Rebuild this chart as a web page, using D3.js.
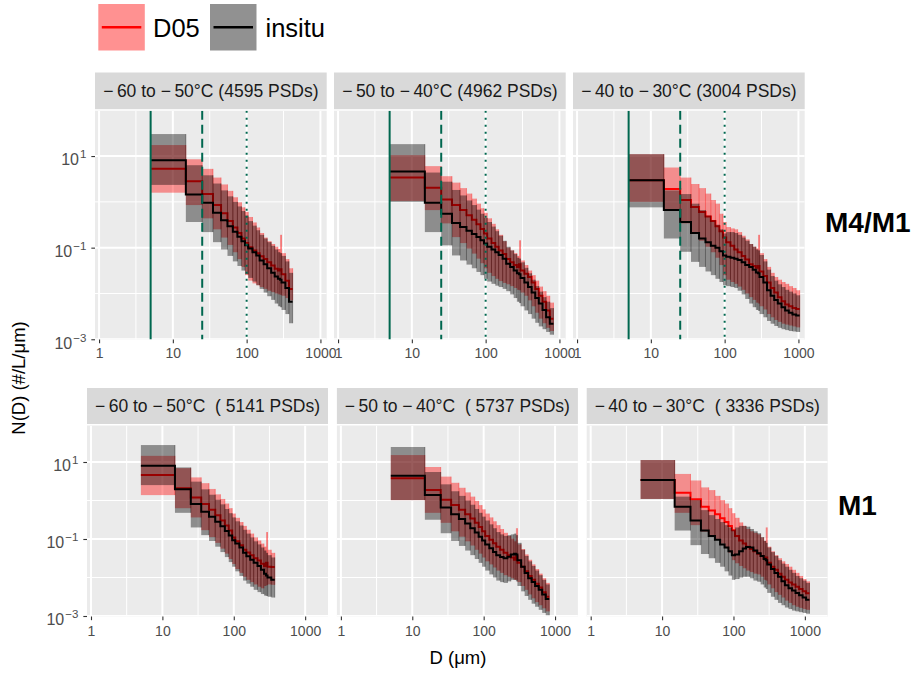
<!DOCTYPE html>
<html>
<head>
<meta charset="utf-8">
<script src="https://cdn.jsdelivr.net/npm/d3@7"></script>
<style>
  body { margin: 0; background: #fff; }
  text { font-family: "Liberation Sans", Arial, Helvetica, sans-serif; }
</style>
</head>
<body>
<svg id="chart" width="919" height="673"></svg>
<script>
// ---- data -----------------------------------------------------------------
// bin edges (µm) shared by all panels
const edges = [5, 15, 25, 35, 45, 55, 65, 75, 85, 95, 105, 120, 135, 150, 170, 190, 215, 240,
  265, 283, 297, 335, 375, 420, 470, 525, 590, 660, 740, 830, 930, 1040, 1160];

const seriesNames = ["D05", "insitu"];
const rowLabels = ["M4/M1", "M1"];
const topTitles = ["\u2212\u200960 to \u2212\u200950°C (4595 PSDs)", "\u2212\u200950 to \u2212\u200940°C (4962 PSDs)", "\u2212\u200940 to \u2212\u200930°C (3004 PSDs)"];
const bottomTitles = ["\u2212\u200960 to \u2212\u200950°C  ( 5141 PSDs)", "\u2212\u200950 to \u2212\u200940°C  ( 5737 PSDs)", "\u2212\u200940 to \u2212\u200930°C  ( 3336 PSDs)"];
const xTicks = [1, 10, 100, 1000];
const xMinor = [3.16, 31.6, 316];
const yTicks = [1e1, 1e-1, 1e-3];
const yMinor = [1e0, 1e-2];
const refLines = [5, 25, 100];

// values are log10 of N(D) (#/L/µm): median, lower and upper bound per bin
// M4/M1, -60 to -50
const t1_d05_med = [0.72, 0.45, 0.17, -0.07, -0.25, -0.42, -0.56, -0.68, -0.80, -0.90, -0.99, -1.06, -1.12, -1.19, -1.25, -1.32, -1.39, -1.46, -1.50, -1.47, -1.58, -1.72, -1.90];
const t1_d05_hi  = [1.24, 0.93, 0.72, 0.53, 0.38, 0.24, 0.10, -0.01, -0.12, -0.22, -0.33, -0.45, -0.56, -0.68, -0.78, -0.86, -0.92, -0.98, -1.03, -0.72, -1.12, -1.25, -1.45];
const t1_d05_lo  = [0.20, -0.07, -0.36, -0.60, -0.78, -0.94, -1.10, -1.25, -1.42, -1.60, -1.72, -1.78, -1.82, -1.86, -1.90, -1.94, -1.97, -2.00, -2.02, -2.03, -2.05, -2.10, -2.15];
const t1_ins_med = [0.91, 0.16, -0.02, -0.24, -0.40, -0.53, -0.65, -0.76, -0.86, -0.95, -1.02, -1.10, -1.17, -1.28, -1.36, -1.45, -1.55, -1.63, -1.68, -1.70, -1.76, -1.88, -2.18];
const t1_ins_hi  = [1.48, 0.80, 0.58, 0.40, 0.25, 0.12, 0.00, -0.10, -0.20, -0.30, -0.42, -0.52, -0.62, -0.72, -0.80, -0.88, -0.96, -1.04, -1.10, -1.12, -1.18, -1.30, -1.55];
const t1_ins_lo  = [0.37, -0.44, -0.66, -0.88, -1.04, -1.18, -1.30, -1.40, -1.50, -1.58, -1.66, -1.74, -1.82, -1.90, -1.98, -2.06, -2.14, -2.22, -2.28, -2.30, -2.36, -2.45, -2.65];
// M4/M1, -50 to -40
const t2_d05_med = [0.53, 0.31, 0.05, -0.07, -0.18, -0.29, -0.39, -0.49, -0.59, -0.69, -0.80, -0.90, -0.98, -1.06, -1.14, -1.25, -1.32, -1.38, -1.42, -1.36, -1.50, -1.57, -1.64, -1.76, -1.90, -2.05, -2.18, -2.37, -2.55];
const t2_d05_hi  = [1.02, 0.78, 0.56, 0.42, 0.30, 0.18, 0.07, -0.04, -0.14, -0.24, -0.36, -0.48, -0.60, -0.72, -0.86, -1.00, -1.06, -1.12, -1.18, -0.84, -1.28, -1.38, -1.50, -1.60, -1.72, -1.85, -1.95, -2.05, -2.20];
const t2_d05_lo  = [0.02, -0.18, -0.47, -0.77, -0.90, -1.02, -1.13, -1.24, -1.34, -1.45, -1.55, -1.62, -1.68, -1.73, -1.77, -1.80, -1.84, -1.88, -1.92, -1.93, -1.98, -2.05, -2.15, -2.28, -2.42, -2.55, -2.65, -2.75, -2.82];
const t2_ins_med = [0.66, -0.02, -0.26, -0.46, -0.55, -0.63, -0.70, -0.77, -0.84, -0.91, -0.98, -1.04, -1.10, -1.16, -1.24, -1.35, -1.42, -1.50, -1.56, -1.58, -1.66, -1.76, -1.86, -1.98, -2.10, -2.22, -2.36, -2.52, -2.66];
const t2_ins_hi  = [1.26, 0.64, 0.44, 0.26, 0.14, 0.03, -0.07, -0.17, -0.26, -0.35, -0.44, -0.54, -0.64, -0.74, -0.85, -0.98, -1.06, -1.14, -1.22, -1.24, -1.32, -1.44, -1.56, -1.70, -1.84, -1.96, -2.08, -2.18, -2.32];
const t2_ins_lo  = [0.00, -0.66, -0.95, -1.17, -1.28, -1.37, -1.45, -1.53, -1.60, -1.68, -1.74, -1.79, -1.83, -1.86, -1.90, -1.95, -2.02, -2.10, -2.18, -2.21, -2.28, -2.37, -2.45, -2.55, -2.64, -2.72, -2.78, -2.84, -2.90];
// M4/M1, -40 to -30
const t3_d05_med = [0.47, 0.28, 0.04, -0.11, -0.22, -0.32, -0.42, -0.53, -0.64, -0.78, -0.88, -0.96, -1.04, -1.10, -1.18, -1.26, -1.36, -1.40, -1.44, -1.40, -1.52, -1.62, -1.76, -1.88, -1.98, -2.08, -2.17, -2.24, -2.28, -2.32, -2.34];
const t3_d05_hi  = [1.04, 0.75, 0.53, 0.39, 0.30, 0.18, 0.04, -0.04, -0.26, -0.44, -0.55, -0.58, -0.60, -0.66, -0.74, -0.82, -0.92, -0.98, -1.02, -0.72, -1.12, -1.25, -1.42, -1.55, -1.64, -1.70, -1.75, -1.79, -1.84, -1.88, -1.93];
const t3_d05_lo  = [0.00, -0.18, -0.47, -0.69, -0.85, -0.98, -1.10, -1.22, -1.38, -1.60, -1.70, -1.75, -1.79, -1.85, -1.92, -2.00, -2.08, -2.14, -2.20, -2.22, -2.28, -2.35, -2.45, -2.52, -2.58, -2.62, -2.66, -2.68, -2.70, -2.72, -2.74];
const t3_ins_med = [0.47, -0.18, -0.44, -0.68, -0.80, -0.88, -0.96, -1.00, -1.08, -1.17, -1.20, -1.22, -1.24, -1.27, -1.32, -1.38, -1.42, -1.48, -1.54, -1.56, -1.64, -1.76, -1.93, -2.05, -2.14, -2.22, -2.30, -2.37, -2.42, -2.46, -2.48];
const t3_ins_hi  = [1.04, 0.25, 0.17, -0.04, -0.18, -0.30, -0.40, -0.50, -0.60, -0.69, -0.66, -0.66, -0.68, -0.72, -0.78, -0.85, -0.92, -0.98, -1.04, -1.06, -1.16, -1.30, -1.48, -1.62, -1.72, -1.80, -1.86, -1.92, -1.96, -2.00, -2.04];
const t3_ins_lo  = [-0.12, -0.80, -1.09, -1.31, -1.42, -1.52, -1.60, -1.68, -1.75, -1.82, -1.84, -1.86, -1.88, -1.94, -2.02, -2.12, -2.22, -2.30, -2.36, -2.38, -2.45, -2.52, -2.60, -2.66, -2.71, -2.75, -2.78, -2.80, -2.82, -2.83, -2.84];
// M1, -60 to -50
const b1_d05_med = [0.66, 0.32, 0.08, -0.09, -0.24, -0.38, -0.52, -0.65, -0.78, -0.96, -1.06, -1.16, -1.28, -1.35, -1.42, -1.50, -1.56, -1.64, -1.70, -1.62, -1.72, -1.73];
const b1_d05_hi  = [1.16, 0.84, 0.60, 0.45, 0.30, 0.16, 0.04, -0.08, -0.20, -0.34, -0.45, -0.56, -0.66, -0.76, -0.86, -0.96, -1.04, -1.12, -1.20, -0.82, -1.28, -1.36];
const b1_d05_lo  = [0.14, -0.20, -0.44, -0.77, -0.95, -1.10, -1.25, -1.38, -1.52, -1.65, -1.78, -1.88, -1.98, -2.06, -2.12, -2.18, -2.24, -2.28, -2.22, -2.20, -2.18, -2.19];
const b1_ins_med = [0.90, 0.29, -0.09, -0.29, -0.42, -0.55, -0.67, -0.79, -0.91, -1.03, -1.12, -1.22, -1.36, -1.45, -1.54, -1.62, -1.70, -1.80, -1.90, -1.95, -2.00, -2.06];
const b1_ins_hi  = [1.44, 0.86, 0.49, 0.29, 0.15, 0.02, -0.10, -0.22, -0.33, -0.44, -0.54, -0.65, -0.76, -0.86, -0.96, -1.06, -1.14, -1.22, -1.30, -1.36, -1.42, -1.48];
const b1_ins_lo  = [0.40, -0.32, -0.70, -0.90, -1.05, -1.20, -1.34, -1.47, -1.60, -1.72, -1.84, -1.96, -2.08, -2.16, -2.24, -2.32, -2.38, -2.43, -2.47, -2.48, -2.50, -2.52];
// M1, -50 to -40
const b2_d05_med = [0.58, 0.27, 0.02, -0.12, -0.24, -0.36, -0.47, -0.58, -0.69, -0.80, -0.92, -1.02, -1.11, -1.20, -1.28, -1.36, -1.42, -1.48, -1.54, -1.45, -1.62, -1.72, -1.84, -1.96, -2.06, -2.16, -2.26, -2.38, -2.50];
const b2_d05_hi  = [1.18, 0.87, 0.62, 0.46, 0.33, 0.21, 0.10, -0.01, -0.12, -0.23, -0.34, -0.44, -0.54, -0.64, -0.74, -0.84, -0.92, -0.99, -1.06, -0.72, -1.14, -1.26, -1.40, -1.54, -1.66, -1.78, -1.90, -2.02, -2.14];
const b2_d05_lo  = [0.01, -0.32, -0.58, -0.80, -0.94, -1.06, -1.17, -1.28, -1.38, -1.48, -1.58, -1.66, -1.74, -1.82, -1.88, -1.94, -1.98, -2.02, -2.06, -2.06, -2.12, -2.22, -2.32, -2.44, -2.54, -2.64, -2.72, -2.80, -2.88];
const b2_ins_med = [0.64, 0.14, -0.18, -0.36, -0.48, -0.60, -0.72, -0.83, -0.94, -1.04, -1.14, -1.24, -1.34, -1.42, -1.47, -1.50, -1.46, -1.40, -1.38, -1.40, -1.55, -1.72, -1.88, -2.02, -2.12, -2.22, -2.32, -2.44, -2.56];
const b2_ins_hi  = [1.39, 0.74, 0.42, 0.24, 0.12, 0.00, -0.11, -0.22, -0.32, -0.42, -0.52, -0.62, -0.72, -0.82, -0.88, -0.92, -0.90, -0.88, -0.86, -0.90, -1.10, -1.28, -1.44, -1.58, -1.70, -1.82, -1.94, -2.06, -2.18];
const b2_ins_lo  = [0.01, -0.50, -0.85, -1.05, -1.18, -1.30, -1.42, -1.52, -1.62, -1.72, -1.82, -1.92, -2.00, -2.08, -2.12, -2.14, -2.10, -2.06, -2.06, -2.10, -2.22, -2.36, -2.48, -2.58, -2.68, -2.76, -2.84, -2.92, -2.98];
// M1, -40 to -30
const b3_d05_med = [0.53, 0.20, 0.03, -0.16, -0.26, -0.36, -0.46, -0.56, -0.66, -0.77, -0.92, -1.04, -1.12, -1.20, -1.26, -1.32, -1.38, -1.44, -1.50, -1.48, -1.62, -1.72, -1.80, -1.90, -1.98, -2.06, -2.13, -2.18, -2.24, -2.30, -2.36, -2.41];
const b3_d05_hi  = [1.05, 0.69, 0.52, 0.34, 0.27, 0.12, 0.01, -0.08, -0.20, -0.33, -0.45, -0.57, -0.66, -0.74, -0.80, -0.84, -0.88, -0.96, -1.05, -0.70, -1.20, -1.32, -1.42, -1.50, -1.58, -1.65, -1.72, -1.80, -1.88, -1.96, -2.04, -2.10];
const b3_d05_lo  = [0.04, -0.32, -0.64, -0.81, -0.92, -1.02, -1.12, -1.24, -1.36, -1.55, -1.63, -1.70, -1.76, -1.82, -1.86, -1.90, -1.92, -1.98, -2.06, -2.08, -2.18, -2.28, -2.38, -2.45, -2.52, -2.60, -2.66, -2.72, -2.76, -2.79, -2.82, -2.84];
const b3_ins_med = [0.53, -0.16, -0.52, -0.78, -0.92, -1.02, -1.14, -1.22, -1.32, -1.42, -1.40, -1.32, -1.25, -1.21, -1.22, -1.30, -1.37, -1.44, -1.52, -1.55, -1.66, -1.78, -1.88, -1.98, -2.10, -2.20, -2.28, -2.34, -2.40, -2.46, -2.52, -2.58];
const b3_ins_hi  = [1.05, 0.10, 0.01, -0.25, -0.38, -0.48, -0.56, -0.64, -0.70, -0.77, -0.70, -0.66, -0.66, -0.68, -0.74, -0.80, -0.85, -0.95, -1.05, -1.10, -1.22, -1.34, -1.44, -1.55, -1.64, -1.72, -1.80, -1.88, -1.96, -2.02, -2.08, -2.14];
const b3_ins_lo  = [0.04, -0.78, -1.16, -1.39, -1.50, -1.62, -1.72, -1.84, -1.95, -2.06, -2.04, -2.00, -1.98, -1.98, -2.02, -2.08, -2.11, -2.18, -2.26, -2.30, -2.40, -2.50, -2.58, -2.66, -2.72, -2.78, -2.82, -2.86, -2.88, -2.90, -2.92, -2.94];

// ---- layout ---------------------------------------------------------------
const svg = d3.select("#chart");
const panelBg = "#EBEBEB", stripBg = "#D9D9D9", greenRef = "#00674F";
const textGrey = "#4D4D4D";

const rows = [
  { titles: topTitles, label: rowLabels[0], labelX: 825, labelY: 232,
    stripTop: 72.5, top: 110.7, bottom: 339.5, lefts: [95, 334, 573], width: 231.7,
    xDom: [Math.pow(10, -0.055), Math.pow(10, 3.085)], yDom: [Math.pow(10, -3.005), Math.pow(10, 1.99)],
    refs: true, xPad: 5,
    panels: [
      { d05: [t1_d05_med, t1_d05_lo, t1_d05_hi], ins: [t1_ins_med, t1_ins_lo, t1_ins_hi] },
      { d05: [t2_d05_med, t2_d05_lo, t2_d05_hi], ins: [t2_ins_med, t2_ins_lo, t2_ins_hi] },
      { d05: [t3_d05_med, t3_d05_lo, t3_d05_hi], ins: [t3_ins_med, t3_ins_lo, t3_ins_hi] }] },
  { titles: bottomTitles, label: rowLabels[1], labelX: 838, labelY: 515,
    stripTop: 388, top: 425.5, bottom: 616.5, lefts: [87, 336.9, 586.7], width: 241,
    xDom: [Math.pow(10, -0.056), Math.pow(10, 3.32)], yDom: [Math.pow(10, -3.013), Math.pow(10, 1.948)],
    refs: false, xPad: 6,
    panels: [
      { d05: [b1_d05_med, b1_d05_lo, b1_d05_hi], ins: [b1_ins_med, b1_ins_lo, b1_ins_hi] },
      { d05: [b2_d05_med, b2_d05_lo, b2_d05_hi], ins: [b2_ins_med, b2_ins_lo, b2_ins_hi] },
      { d05: [b3_d05_med, b3_d05_lo, b3_d05_hi], ins: [b3_ins_med, b3_ins_lo, b3_ins_hi] }] }
];

function toBins(s) {
  const [med, lo, hi] = s;
  return med.map((m, i) => ({ x0: edges[i], x1: edges[i + 1],
    med: Math.pow(10, m), lo: Math.pow(10, lo[i]), hi: Math.pow(10, hi[i]) }));
}

function drawSeries(g, bins, x, y, fill, edgeCol, lineCol) {
  g.append("g").selectAll("rect").data(bins).join("rect")
    .attr("x", d => x(d.x0))
    .attr("width", d => x(d.x1) - x(d.x0))
    .attr("y", d => y(d.hi))
    .attr("height", d => y(d.lo) - y(d.hi))
    .attr("fill", fill)
    .attr("fill-opacity", 0.4);
  g.append("g").selectAll("line").data(bins).join("line")
    .attr("x1", d => x(d.x1)).attr("x2", d => x(d.x1))
    .attr("y1", d => y(d.hi)).attr("y2", d => y(d.lo))
    .attr("stroke", edgeCol)
    .attr("stroke-opacity", 0.45)
    .attr("stroke-width", 0.8);
  const pts = bins.flatMap(d => [[d.x0, d.med], [d.x1, d.med]]);
  g.append("path")
    .attr("d", d3.line().x(p => x(p[0])).y(p => y(p[1]))(pts))
    .attr("fill", "none")
    .attr("stroke", lineCol)
    .attr("stroke-width", 2);
}

rows.forEach((row, r) => {
  row.panels.forEach((p, c) => {
    const left = row.lefts[c], right = left + row.width;
    const x = d3.scaleLog().domain(row.xDom).range([left, right]);
    const y = d3.scaleLog().domain(row.yDom).range([row.bottom, row.top]);
    const g = svg.append("g");

    // strip
    g.append("rect")
      .attr("x", left).attr("y", row.stripTop)
      .attr("width", row.width).attr("height", row.top - 1.5 - row.stripTop)
      .attr("fill", stripBg);
    g.append("text")
      .attr("x", (left + right) / 2).attr("y", row.stripTop + (row.top - 1.5 - row.stripTop) / 2 + 6.2)
      .attr("text-anchor", "middle")
      .attr("font-size", 17.5)
      .attr("fill", "#1A1A1A")
      .style("white-space", "pre")
      .text(row.titles[c]);

    // panel background and grid
    g.append("rect")
      .attr("x", left).attr("y", row.top)
      .attr("width", row.width).attr("height", row.bottom - row.top)
      .attr("fill", panelBg);
    const clipId = "clip" + r + c;
    g.append("clipPath").attr("id", clipId).append("rect")
      .attr("x", left).attr("y", row.top)
      .attr("width", row.width).attr("height", row.bottom - row.top);
    const inner = g.append("g").attr("clip-path", `url(#${clipId})`);

    inner.append("g").selectAll("line").data(xMinor).join("line")
      .attr("x1", d => x(d)).attr("x2", d => x(d))
      .attr("y1", row.top).attr("y2", row.bottom)
      .attr("stroke", "#fff").attr("stroke-width", 1);
    inner.append("g").selectAll("line").data(yMinor).join("line")
      .attr("y1", d => y(d)).attr("y2", d => y(d))
      .attr("x1", left).attr("x2", right)
      .attr("stroke", "#fff").attr("stroke-width", 1);
    inner.append("g").selectAll("line").data(xTicks).join("line")
      .attr("x1", d => x(d)).attr("x2", d => x(d))
      .attr("y1", row.top).attr("y2", row.bottom)
      .attr("stroke", "#fff").attr("stroke-width", 2);
    inner.append("g").selectAll("line").data(yTicks).join("line")
      .attr("y1", d => y(d)).attr("y2", d => y(d))
      .attr("x1", left).attr("x2", right)
      .attr("stroke", "#fff").attr("stroke-width", 2);

    // data: D05 first, in-situ on top
    drawSeries(inner, toBins(p.d05), x, y, "#FF0000", "#FF0000", "#FF0000");
    drawSeries(inner, toBins(p.ins), x, y, "#000000", "#000000", "#000000");

    // reference sizes (top row only)
    if (row.refs) {
      const dashes = [null, "9,5", "2,5"];
      inner.append("g").selectAll("line").data(refLines).join("line")
        .attr("x1", d => x(d)).attr("x2", d => x(d))
        .attr("y1", row.top).attr("y2", row.bottom)
        .attr("stroke", greenRef).attr("stroke-width", 2)
        .attr("stroke-dasharray", (d, i) => dashes[i]);
    }

    // x axis
    const xa = g.append("g")
      .attr("transform", `translate(0,${row.bottom})`)
      .call(d3.axisBottom(x).tickValues(xTicks).tickSize(3.67).tickPadding(row.xPad).tickFormat(d3.format("d")));
    xa.select(".domain").remove();
    xa.selectAll(".tick line").attr("stroke", "#333").attr("stroke-width", 1.1);
    xa.selectAll(".tick text").attr("fill", textGrey).attr("font-size", 14)
      .attr("font-family", '"Liberation Sans", Arial, sans-serif');

    // y axis on first panel
    if (c === 0) {
      const ya = g.append("g")
        .attr("transform", `translate(${left},0)`)
        .call(d3.axisLeft(y).tickValues(yTicks).tickSize(3.67).tickPadding(5));
      ya.select(".domain").remove();
      ya.selectAll(".tick line").attr("stroke", "#333").attr("stroke-width", 1.1);
      ya.selectAll(".tick text").each(function (d) {
        const t = d3.select(this);
        const e = Math.round(Math.log10(d));
        t.text(null)
          .attr("fill", textGrey).attr("font-size", 16).attr("dy", "0.55em")
          .attr("font-family", '"Liberation Sans", Arial, sans-serif');
        t.append("tspan").text("10");
        t.append("tspan").attr("dy", "-0.6em").attr("dx", 1).attr("font-size", 11.5)
          .text(e < 0 ? "\u2212" + (-e) : String(e));
      });
    }
  });

  svg.append("text")
    .attr("x", row.labelX).attr("y", row.labelY)
    .attr("font-size", 28).attr("font-weight", "bold")
    .attr("fill", "#000")
    .text(row.label);
});

// axis titles
svg.append("text")
  .attr("x", 458).attr("y", 664)
  .attr("text-anchor", "middle").attr("font-size", 18.5)
  .text("D (\u03bcm)");
svg.append("text")
  .attr("transform", "translate(25,378) rotate(-90)")
  .attr("text-anchor", "middle").attr("font-size", 18.5)
  .text("N(D) (#/L/\u03bcm)");

// legend
const legend = svg.append("g");
const legendItems = [
  { name: seriesNames[0], fill: "#FF0000", line: "#FF0000", x: 98.3, tx: 153 },
  { name: seriesNames[1], fill: "#000000", line: "#000000", x: 210, tx: 265.5 }];
legendItems.forEach(it => {
  legend.append("rect")
    .attr("x", it.x).attr("y", 4).attr("width", 46.5).attr("height", 46.5)
    .attr("fill", it.fill).attr("fill-opacity", 0.43);
  legend.append("line")
    .attr("x1", it.x + 3.5).attr("x2", it.x + 43)
    .attr("y1", 27.2).attr("y2", 27.2)
    .attr("stroke", it.line).attr("stroke-width", 2.6);
  legend.append("text")
    .attr("x", it.tx).attr("y", 37.3)
    .attr("font-size", 25.5)
    .text(it.name);
});
</script>
</body>
</html>
